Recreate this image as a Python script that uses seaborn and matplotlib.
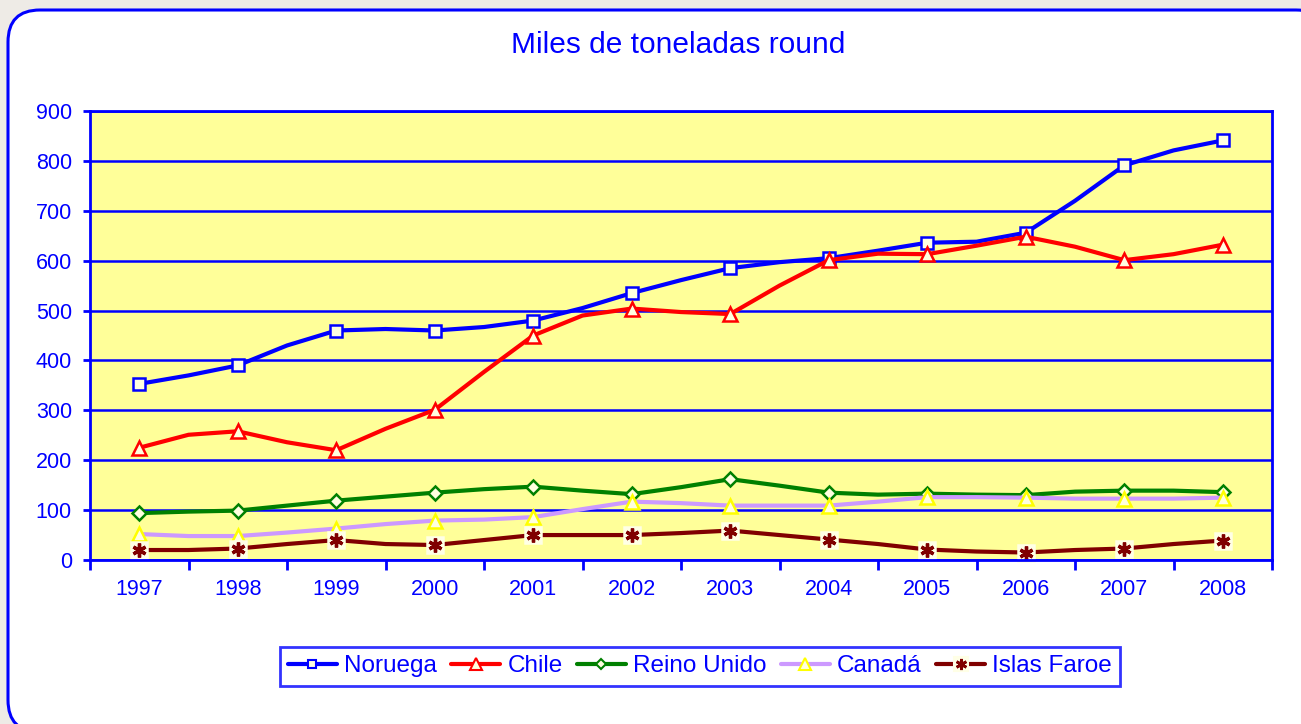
import numpy as np
import pandas as pd
import matplotlib
matplotlib.use("Agg")
import matplotlib.pyplot as plt
import matplotlib.patches as mpatches
from matplotlib.lines import Line2D
from matplotlib.legend_handler import HandlerTuple
import seaborn as sns

# half-year readings, markers only on the whole years
years = ["1997", "1998", "1999", "2000", "2001", "2002",
         "2003", "2004", "2005", "2006", "2007", "2008"]
periods = np.arange(0, 11.5, 0.5)

noruega = [353, 370, 390, 430, 460, 463, 460, 467, 480, 505, 535, 561,
           585, 597, 605, 620, 636, 638, 656, 720, 791, 821, 841]
chile = [225, 251, 258, 236, 220, 263, 301, 377, 450, 490, 504, 497,
         493, 550, 601, 614, 613, 630, 648, 628, 601, 613, 632]
reino_unido = [94, 97, 99, 109, 119, 127, 135, 142, 147, 139, 132, 146,
               162, 149, 135, 131, 133, 131, 130, 137, 139, 139, 136]
canada = [52, 48, 48, 55, 63, 72, 79, 81, 86, 102, 117, 114,
          109, 109, 109, 117, 126, 126, 125, 123, 123, 123, 125]
islas_faroe = [20, 20, 23, 32, 40, 32, 30, 40, 50, 50, 50, 54,
               59, 50, 41, 32, 21, 17, 15, 20, 23, 32, 39]

df = pd.DataFrame({"x": periods, "Noruega": noruega, "Chile": chile,
                   "Reino Unido": reino_unido, "Canadá": canada,
                   "Islas Faroe": islas_faroe})

sns.set_style("white")
plt.rcParams["font.family"] = ["Liberation Sans", "DejaVu Sans"]

blue = "#0000FF"
fill = "#FFFFE0"

fig = plt.figure(figsize=(13.01, 7.24), dpi=100)
fig.patch.set_facecolor("#EEEBE6")

# rounded white panel, right side runs off the picture
panel = mpatches.FancyBboxPatch((8, -8), 1320, 722,
                                boxstyle="round,pad=0,rounding_size=32",
                                transform=None, facecolor="white",
                                edgecolor=blue, linewidth=2.2, zorder=0)
fig.patches.append(panel)

ax = fig.add_axes([90 / 1301, 1 - 560 / 724, 1182 / 1301, 449 / 724])
ax.set_zorder(2)
ax.set_facecolor("#FFFF99")

styles = {
    "Noruega": dict(color=blue, marker="s", ms=8, mec=blue, mfc=fill),
    "Chile": dict(color="#FF0000", marker="^", ms=10, mec="#FF0000", mfc=fill),
    "Reino Unido": dict(color="#008000", marker="D", ms=7, mec="#008000", mfc=fill),
    "Canadá": dict(color="#CC99FF", marker="^", ms=10, mec="#FFFF00", mfc=fill),
    "Islas Faroe": dict(color="#800000", marker="s", ms=12, mec="#FFFFE6", mfc="#FFFFE6"),
}

for name, st in styles.items():
    sns.lineplot(data=df, x="x", y=name, ax=ax, color=st["color"],
                 linewidth=3, marker=st["marker"], markersize=st["ms"],
                 markevery=2, markerfacecolor=st["mfc"],
                 markeredgecolor=st["mec"], markeredgewidth=1.8,
                 estimator=None, clip_on=False)

# asterisks on top of the Faroe squares
ax.plot(df["x"][::2], df["Islas Faroe"][::2], linestyle="none",
        marker=(6, 2, 0), markersize=10, markeredgewidth=2.4,
        color="#800000", clip_on=False)

ax.set_xlim(-0.5, 11.5)
ax.set_ylim(0, 900)
ax.set_xticks(np.arange(-0.5, 12, 1))
ax.set_xticklabels([])
ax.set_xticks(np.arange(12), minor=True)
ax.set_xticklabels(years, minor=True)
ax.set_yticks(np.arange(0, 901, 100))
ax.tick_params(axis="x", which="major", direction="out", length=7, width=2,
               color=blue, bottom=True)
ax.tick_params(axis="x", which="minor", length=0, pad=14, labelsize=15.5,
               labelcolor=blue)
ax.tick_params(axis="y", direction="out", length=5, width=2, color=blue,
               left=True, pad=8, labelsize=15.5, labelcolor=blue)
ax.set_xlabel("")
ax.set_ylabel("")
ax.yaxis.grid(True, color=blue, linewidth=1.8)
ax.set_axisbelow(True)
for sp in ax.spines.values():
    sp.set_color(blue)
    sp.set_linewidth(2)

fig.text(0.521, 0.938, "Miles de toneladas round", ha="center", va="center",
         fontsize=21.5, color=blue)

# legend handles built apart so the markers sit in the middle
handles = []
for name, st in styles.items():
    h = Line2D([], [], color=st["color"], linewidth=3, marker=st["marker"],
               markersize=st["ms"] * 0.8, markerfacecolor=st["mfc"],
               markeredgecolor=st["mec"], markeredgewidth=1.5)
    handles.append(h)
star_h = Line2D([], [], linestyle="none", marker=(6, 2, 0), markersize=8,
                markeredgewidth=2, color="#800000")
handles[-1] = (handles[-1], star_h)

leg = fig.legend(handles, list(styles.keys()), loc="center",
                 bbox_to_anchor=(0.538, 0.080), ncol=5, fontsize=17.5,
                 frameon=True, fancybox=False, edgecolor=blue,
                 handlelength=2.0, handletextpad=0.3, columnspacing=0.6,
                 borderpad=0.35,
                 handler_map={tuple: HandlerTuple(ndivide=1, pad=0)})
leg.get_frame().set_linewidth(2)
leg.set_zorder(3)
for t in leg.get_texts():
    t.set_color(blue)

fig.savefig("out.png", dpi=100, facecolor=fig.get_facecolor())
